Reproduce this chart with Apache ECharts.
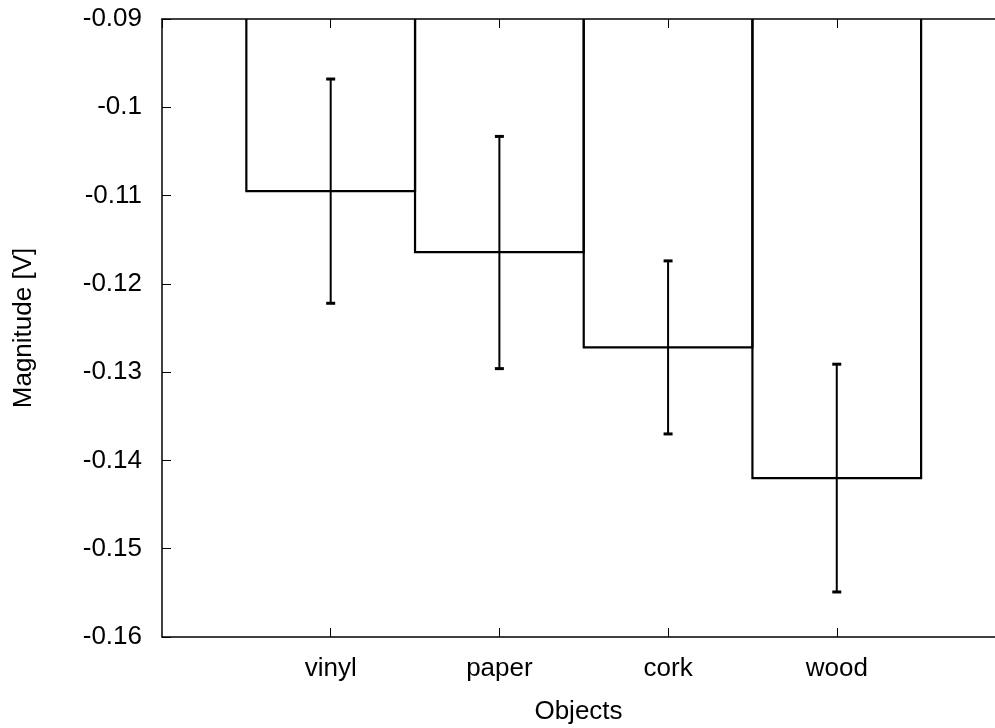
<!DOCTYPE html>
<html>
<head>
<meta charset="utf-8">
<script src="https://cdn.jsdelivr.net/npm/echarts@6/dist/echarts.min.js"></script>
<style>
  html, body { margin: 0; padding: 0; background: #fff; }
  #chart { width: 995px; height: 728px; }
</style>
</head>
<body>
<div id="chart"></div>
<script>
// Data
const categories = ['vinyl', 'paper', 'cork', 'wood'];
const magnitudes = [-0.1095, -0.1164, -0.1272, -0.1420];
const errLow     = [-0.1222, -0.1296, -0.1370, -0.1549];
const errHigh    = [-0.0968, -0.1033, -0.1174, -0.1291];
const yTicks = { min: -0.16, max: -0.09, step: 0.01 };
const xRange = { min: -1, max: 3.938 };
const barBase = 0;

const FONT = 'Liberation Sans';
const FS = 26;

const barData = magnitudes.map((v, i) => [i, v]);
const errData = categories.map((c, i) => [i, errLow[i], errHigh[i]]);

const chart = echarts.init(document.getElementById('chart'), null, { renderer: 'canvas' });

const xCommon = {
  type: 'value',
  min: xRange.min,
  max: xRange.max,
  interval: 1,
  splitLine: { show: false },
  axisLine: { show: true, onZero: false, lineStyle: { color: '#000', width: 1.5 } },
  axisTick: { show: true, inside: true, length: 9, lineStyle: { color: '#000', width: 1 } }
};

chart.setOption({
  animation: false,
  backgroundColor: '#fff',
  grid: { left: 162, top: 19, right: 0, height: 618, containLabel: false, outerBoundsMode: 'none' },
  xAxis: [
    Object.assign({}, xCommon, {
      position: 'bottom',
      name: 'Objects',
      nameLocation: 'middle',
      nameGap: 62,
      nameTextStyle: { fontFamily: FONT, fontSize: FS, color: '#000' },
      axisLabel: {
        show: true, margin: 19, fontFamily: FONT, fontSize: FS, color: '#000',
        showMinLabel: false, showMaxLabel: false,
        formatter: v => {
          const i = Math.round(v);
          return (Math.abs(v - i) < 1e-6 && i >= 0 && i < categories.length) ? categories[i] : '';
        }
      }
    }),
    Object.assign({}, xCommon, {
      position: 'top',
      axisLabel: { show: false }
    })
  ],
  yAxis: {
    type: 'value',
    min: yTicks.min,
    max: yTicks.max,
    interval: yTicks.step,
    splitLine: { show: false },
    name: 'Magnitude [V]',
    nameLocation: 'middle',
    nameRotate: 90,
    nameGap: 125,
    nameTextStyle: { fontFamily: FONT, fontSize: FS, color: '#000' },
    axisLine: { show: true, onZero: false, lineStyle: { color: '#000', width: 1.5 } },
    axisTick: { show: true, inside: true, length: 9, lineStyle: { color: '#000', width: 1 } },
    axisLabel: {
      margin: 20, fontFamily: FONT, fontSize: FS, color: '#000',
      formatter: v => String(parseFloat(v.toFixed(2)))
    }
  },
  series: [
    {
      type: 'custom',
      clip: true,
      data: barData,
      renderItem: (params, api) => {
        const i = api.value(0);
        const v = api.value(1);
        const p0 = api.coord([i - 0.5, barBase]);
        const p1 = api.coord([i + 0.5, v]);
        const rect = echarts.graphic.clipRectByRect({
          x: p0[0], y: Math.min(p0[1], p1[1]),
          width: p1[0] - p0[0], height: Math.abs(p1[1] - p0[1])
        }, {
          x: params.coordSys.x, y: params.coordSys.y - 2,
          width: params.coordSys.width, height: params.coordSys.height + 2
        });
        return {
          type: 'rect',
          shape: rect,
          style: { fill: 'none', stroke: '#000', lineWidth: 2.2 }
        };
      }
    },
    {
      type: 'custom',
      data: errData,
      renderItem: (params, api) => {
        const i = api.value(0);
        const lo = api.coord([i, api.value(1)]);
        const hi = api.coord([i, api.value(2)]);
        const cap = 4.5;
        const st = { stroke: '#000', lineWidth: 2 };
        const capSt = { stroke: '#000', lineWidth: 3 };
        return {
          type: 'group',
          children: [
            { type: 'line', shape: { x1: lo[0], y1: lo[1], x2: hi[0], y2: hi[1] }, style: st },
            { type: 'line', shape: { x1: lo[0] - cap, y1: lo[1], x2: lo[0] + cap, y2: lo[1] }, style: capSt },
            { type: 'line', shape: { x1: hi[0] - cap, y1: hi[1], x2: hi[0] + cap, y2: hi[1] }, style: capSt }
          ]
        };
      }
    }
  ]
});
</script>
</body>
</html>
